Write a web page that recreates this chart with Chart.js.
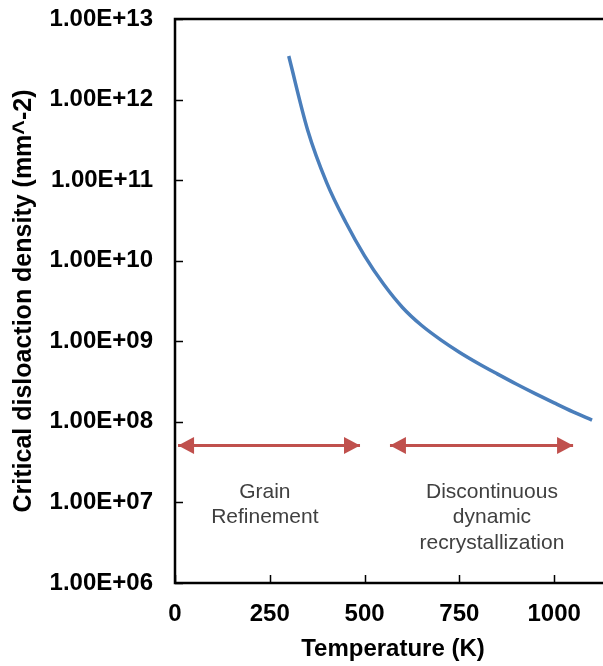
<!DOCTYPE html>
<html>
<head>
<meta charset="utf-8">
<script src="https://cdn.jsdelivr.net/npm/chart.js@4/dist/chart.umd.min.js"></script>
<style>
  html, body { margin: 0; padding: 0; background: #fff; overflow: hidden; }
  canvas { display: block; }
</style>
</head>
<body>
<canvas id="chart" width="620" height="666"></canvas>
<script>
// Critical dislocation density versus temperature
const temperatureK = [300, 350, 400, 450, 500, 550, 600, 650, 700, 750, 800, 850, 900, 950, 1000, 1050, 1100];
const criticalDensity = [3.47e12, 4.17e11, 9.33e10, 3.02e10, 1.15e10, 5.13e9, 2.63e9, 1.58e9, 1.05e9, 7.33e8, 5.31e8, 3.94e8, 2.95e8, 2.24e8, 1.72e8, 1.33e8, 1.05e8];

// Temperature ranges of the two regimes (double-headed arrows)
const grainArrowX = [8, 488];
const drxArrowX = [567, 1050];
const arrowLevel = 5.1e7;

// Regime captions
const grainCaption = ['Grain', 'Refinement'];
const drxCaption = ['Discontinuous', 'dynamic', 'recrystallization'];
const grainCaptionAt = { x: 237, y: 1.35e7 };
const drxCaptionAt = { x: 836, y: 1.35e7 };

// Axis ticks
const xTickValues = [0, 250, 500, 750, 1000];
const xTickLabels = ['0', '250', '500', '750', '1000'];
const yTickValues = [1e6, 1e7, 1e8, 1e9, 1e10, 1e11, 1e12, 1e13];
const yTickLabels = ['1.00E+06', '1.00E+07', '1.00E+08', '1.00E+09', '1.00E+10', '1.00E+11', '1.00E+12', '1.00E+13'];

const FONT = '"Liberation Sans", Arial, sans-serif';
const BLUE = '#4A7EBB';
const RED = '#C0504D';

const curvePoints = temperatureK.map((t, i) => ({ x: t, y: criticalDensity[i] }));
const arrowPoints = xs => xs.map(x => ({ x: x, y: arrowLevel }));

// Plot frame and inward tick marks
const framePlugin = {
  id: 'frame',
  afterDraw(chart) {
    const { ctx, chartArea: a, scales } = chart;
    ctx.save();
    ctx.strokeStyle = '#000';
    ctx.lineWidth = 1.5;
    ctx.beginPath();
    xTickValues.forEach(v => {
      const px = Math.round(scales.x.getPixelForValue(v)) + 0.5;
      ctx.moveTo(px, a.bottom);
      ctx.lineTo(px, a.bottom - 8);
    });
    yTickValues.forEach(v => {
      const py = Math.round(scales.y.getPixelForValue(v)) + 0.5;
      ctx.moveTo(a.left, py);
      ctx.lineTo(a.left + 8, py);
    });
    ctx.stroke();
    ctx.lineWidth = 2.5;
    ctx.strokeRect(a.left, a.top, a.right - a.left, a.bottom - a.top);
    ctx.restore();
  }
};

// Arrowheads on both ends of the regime arrows
const arrowPlugin = {
  id: 'arrowHeads',
  afterDatasetsDraw(chart) {
    const { ctx } = chart;
    chart.data.datasets.forEach((ds, di) => {
      if (!ds.arrow) return;
      const pts = chart.getDatasetMeta(di).data;
      const p0 = pts[0], p1 = pts[pts.length - 1];
      ctx.save();
      ctx.fillStyle = ds.borderColor;
      const head = (tip, dir) => {
        ctx.beginPath();
        ctx.moveTo(tip.x, tip.y);
        ctx.lineTo(tip.x - dir * 16, tip.y - 8.5);
        ctx.lineTo(tip.x - dir * 16, tip.y + 8.5);
        ctx.closePath();
        ctx.fill();
      };
      head(p0, -1);
      head(p1, 1);
      ctx.restore();
    });
  }
};

// Multi-line captions placed in data coordinates
const captionPlugin = {
  id: 'captions',
  afterDatasetsDraw(chart, args, opts) {
    const { ctx, scales } = chart;
    ctx.save();
    ctx.fillStyle = opts.color;
    ctx.font = opts.font;
    ctx.textAlign = 'center';
    ctx.textBaseline = 'middle';
    opts.items.forEach(item => {
      const cx = scales.x.getPixelForValue(item.at.x);
      const cy = scales.y.getPixelForValue(item.at.y);
      item.lines.forEach((line, i) => ctx.fillText(line, cx, cy + i * opts.lineGap));
    });
    ctx.restore();
  }
};

new Chart(document.getElementById('chart'), {
  type: 'line',
  data: {
    datasets: [
      {
        label: 'Critical dislocation density',
        data: curvePoints,
        borderColor: BLUE,
        borderWidth: 3.5,
        pointRadius: 0,
        cubicInterpolationMode: 'monotone',
        fill: false
      },
      {
        label: 'Grain refinement range',
        data: arrowPoints(grainArrowX),
        borderColor: RED,
        borderWidth: 3,
        pointRadius: 0,
        arrow: true,
        clip: false
      },
      {
        label: 'DRX range',
        data: arrowPoints(drxArrowX),
        borderColor: RED,
        borderWidth: 3,
        pointRadius: 0,
        arrow: true,
        clip: false
      }
    ]
  },
  options: {
    responsive: false,
    animation: false,
    devicePixelRatio: 1,
    layout: { padding: { left: 0, top: 19, right: 9, bottom: 0 } },
    plugins: {
      legend: { display: false },
      tooltip: { enabled: false },
      captions: {
        items: [
          { lines: grainCaption, at: grainCaptionAt },
          { lines: drxCaption, at: drxCaptionAt }
        ],
        font: '21px ' + FONT,
        color: '#404040',
        lineGap: 25.5
      }
    },
    scales: {
      x: {
        type: 'linear',
        min: 0,
        max: 1150,
        border: { display: false },
        grid: { display: false, drawTicks: false },
        afterBuildTicks: s => { s.ticks = xTickValues.map(v => ({ value: v })); },
        afterFit: s => { s.height = 83; s.paddingLeft = 0; s.paddingRight = 0; },
        ticks: {
          padding: 17,
          color: '#000',
          font: { family: FONT, size: 24, weight: 'bold' },
          callback: v => { const i = xTickValues.indexOf(v); return i >= 0 ? xTickLabels[i] : ''; }
        },
        title: {
          display: true,
          text: 'Temperature (K)',
          color: '#000',
          font: { family: FONT, size: 24, weight: 'bold' },
          padding: { top: 0, bottom: 2 }
        }
      },
      y: {
        type: 'logarithmic',
        min: 1e6,
        max: 1e13,
        border: { display: false },
        grid: { display: false, drawTicks: false },
        afterBuildTicks: s => { s.ticks = yTickValues.map(v => ({ value: v })); },
        afterFit: s => { s.width = 175; s.paddingTop = 0; s.paddingBottom = 0; },
        ticks: {
          padding: 22,
          color: '#000',
          font: { family: FONT, size: 24, weight: 'bold' },
          callback: v => { const i = yTickValues.indexOf(v); return i >= 0 ? yTickLabels[i] : ''; }
        },
        title: {
          display: true,
          text: 'Critical disloaction density (mm^-2)',
          color: '#000',
          font: { family: FONT, size: 25, weight: 'bold' },
          padding: { top: 9, bottom: 0 }
        }
      }
    }
  },
  plugins: [framePlugin, arrowPlugin, captionPlugin]
});
</script>
</body>
</html>
